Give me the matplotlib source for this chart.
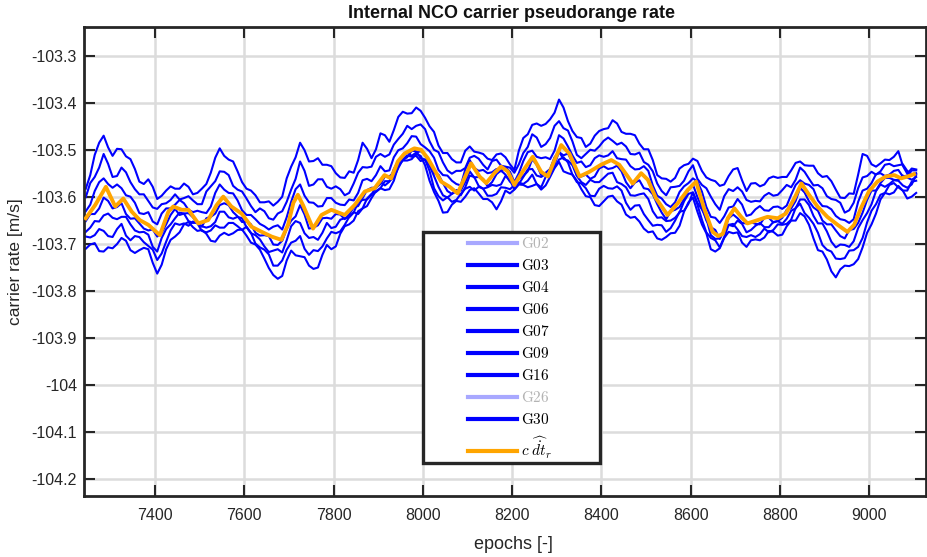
import matplotlib
matplotlib.use("Agg")
import numpy as np
import matplotlib.pyplot as plt
from matplotlib.patches import Rectangle
from matplotlib.ticker import FuncFormatter

plt.rcParams['font.family'] = ['Liberation Sans', 'DejaVu Sans']
plt.rcParams['mathtext.fontset'] = 'cm'
plt.rcParams['axes.unicode_minus'] = False

# ---------------- data ----------------
epochs = list(range(7245, 9106, 20))       # samples read on the 20-epoch grid
mid_epochs = list(range(7255, 9096, 20))   # samples read half-way between them

G02 = []
G26 = []
G03 = [-103.582, -103.510, -103.469, -103.512, -103.498, -103.519, -103.567, -103.562, -103.604, -103.586,
       -103.582, -103.571, -103.594, -103.582, -103.548, -103.496, -103.520, -103.545, -103.582, -103.596,
       -103.611, -103.618, -103.599, -103.535, -103.484, -103.524, -103.517, -103.531, -103.549, -103.559,
       -103.548, -103.484, -103.517, -103.464, -103.482, -103.429, -103.422, -103.409, -103.431, -103.461,
       -103.506, -103.519, -103.526, -103.492, -103.505, -103.518, -103.509, -103.515, -103.542, -103.474,
       -103.446, -103.448, -103.434, -103.392, -103.438, -103.472, -103.493, -103.469, -103.455, -103.436,
       -103.461, -103.465, -103.486, -103.498, -103.553, -103.561, -103.559, -103.532, -103.518, -103.544,
       -103.563, -103.576, -103.555, -103.538, -103.587, -103.570, -103.573, -103.556, -103.557, -103.543,
       -103.524, -103.533, -103.549, -103.555, -103.584, -103.602, -103.593, -103.508, -103.530, -103.528,
       -103.521, -103.502, -103.550, -103.541]
G03_mid = [-103.553, -103.484, -103.494, -103.497, -103.513, -103.540, -103.572, -103.578, -103.597, -103.577,
           -103.582, -103.578, -103.591, -103.572, -103.516, -103.512, -103.524, -103.568, -103.586, -103.611,
           -103.609, -103.610, -103.560, -103.515, -103.500, -103.523, -103.531, -103.534, -103.558, -103.545,
           -103.521, -103.497, -103.498, -103.468, -103.457, -103.418, -103.421, -103.416, -103.449, -103.490,
           -103.506, -103.526, -103.501, -103.503, -103.508, -103.521, -103.507, -103.530, -103.501, -103.466,
           -103.443, -103.444, -103.420, -103.409, -103.459, -103.474, -103.486, -103.459, -103.453, -103.443,
           -103.465, -103.468, -103.498, -103.521, -103.560, -103.567, -103.539, -103.529, -103.523, -103.558,
           -103.566, -103.573, -103.541, -103.564, -103.571, -103.577, -103.560, -103.559, -103.557, -103.527,
           -103.532, -103.533, -103.557, -103.566, -103.601, -103.592, -103.552, -103.512, -103.535, -103.520,
           -103.514, -103.533, -103.539]
G04 = [-103.600, -103.557, -103.508, -103.557, -103.537, -103.568, -103.594, -103.608, -103.625, -103.613,
       -103.594, -103.602, -103.607, -103.615, -103.577, -103.545, -103.553, -103.584, -103.603, -103.632,
       -103.630, -103.648, -103.630, -103.584, -103.524, -103.576, -103.562, -103.578, -103.577, -103.596,
       -103.571, -103.536, -103.535, -103.508, -103.509, -103.476, -103.448, -103.448, -103.455, -103.499,
       -103.526, -103.550, -103.544, -103.516, -103.518, -103.541, -103.520, -103.535, -103.548, -103.506,
       -103.466, -103.493, -103.474, -103.438, -103.458, -103.510, -103.508, -103.501, -103.480, -103.480,
       -103.484, -103.508, -103.505, -103.531, -103.571, -103.596, -103.578, -103.565, -103.532, -103.574,
       -103.599, -103.627, -103.583, -103.579, -103.606, -103.608, -103.597, -103.597, -103.585, -103.579,
       -103.537, -103.561, -103.574, -103.598, -103.606, -103.633, -103.612, -103.558, -103.546, -103.545,
       -103.529, -103.532, -103.544, -103.549]
G04_mid = [-103.570, -103.537, -103.529, -103.555, -103.547, -103.583, -103.594, -103.622, -103.615, -103.606,
           -103.605, -103.598, -103.615, -103.588, -103.566, -103.546, -103.576, -103.588, -103.619, -103.624,
           -103.645, -103.635, -103.610, -103.561, -103.544, -103.573, -103.562, -103.582, -103.583, -103.591,
           -103.548, -103.537, -103.514, -103.514, -103.488, -103.465, -103.455, -103.445, -103.481, -103.504,
           -103.543, -103.544, -103.538, -103.512, -103.531, -103.523, -103.533, -103.537, -103.530, -103.493,
           -103.473, -103.487, -103.448, -103.453, -103.481, -103.517, -103.499, -103.492, -103.473, -103.488,
           -103.492, -103.509, -103.525, -103.545, -103.587, -103.579, -103.576, -103.545, -103.561, -103.581,
           -103.615, -103.598, -103.587, -103.588, -103.610, -103.609, -103.591, -103.595, -103.574, -103.563,
           -103.546, -103.575, -103.581, -103.604, -103.612, -103.628, -103.581, -103.555, -103.552, -103.531,
           -103.534, -103.530, -103.551]
G06 = [-103.630, -103.587, -103.560, -103.580, -103.581, -103.599, -103.634, -103.632, -103.658, -103.624,
       -103.616, -103.613, -103.632, -103.632, -103.620, -103.573, -103.591, -103.607, -103.638, -103.647,
       -103.662, -103.663, -103.669, -103.610, -103.573, -103.611, -103.620, -103.602, -103.612, -103.617,
       -103.607, -103.564, -103.566, -103.534, -103.543, -103.500, -103.485, -103.471, -103.494, -103.516,
       -103.553, -103.565, -103.575, -103.521, -103.544, -103.549, -103.540, -103.536, -103.568, -103.523,
       -103.501, -103.517, -103.519, -103.468, -103.492, -103.527, -103.536, -103.517, -103.514, -103.502,
       -103.519, -103.534, -103.540, -103.544, -103.597, -103.615, -103.611, -103.577, -103.560, -103.588,
       -103.642, -103.655, -103.622, -103.604, -103.640, -103.626, -103.628, -103.621, -103.625, -103.595,
       -103.564, -103.574, -103.607, -103.620, -103.640, -103.649, -103.647, -103.586, -103.570, -103.549,
       -103.552, -103.542, -103.554, -103.543]
G06_mid = [-103.616, -103.568, -103.572, -103.573, -103.596, -103.612, -103.636, -103.652, -103.635, -103.624,
           -103.606, -103.627, -103.629, -103.634, -103.591, -103.584, -103.592, -103.628, -103.638, -103.657,
           -103.669, -103.660, -103.643, -103.583, -103.597, -103.612, -103.619, -103.602, -103.616, -103.605,
           -103.591, -103.561, -103.553, -103.545, -103.515, -103.496, -103.470, -103.487, -103.502, -103.542,
           -103.554, -103.572, -103.541, -103.538, -103.542, -103.547, -103.545, -103.546, -103.549, -103.504,
           -103.514, -103.515, -103.501, -103.475, -103.511, -103.524, -103.532, -103.511, -103.511, -103.517,
           -103.520, -103.541, -103.534, -103.575, -103.603, -103.621, -103.589, -103.570, -103.567, -103.621,
           -103.644, -103.641, -103.620, -103.616, -103.637, -103.619, -103.629, -103.620, -103.618, -103.574,
           -103.571, -103.583, -103.619, -103.626, -103.647, -103.655, -103.610, -103.582, -103.551, -103.555,
           -103.544, -103.556, -103.543]
G07 = [-103.651, -103.636, -103.601, -103.624, -103.613, -103.646, -103.656, -103.671, -103.684, -103.658,
       -103.625, -103.635, -103.643, -103.663, -103.642, -103.617, -103.617, -103.641, -103.652, -103.676,
       -103.681, -103.701, -103.693, -103.650, -103.617, -103.667, -103.660, -103.644, -103.636, -103.647,
       -103.622, -103.602, -103.580, -103.572, -103.556, -103.528, -103.504, -103.505, -103.509, -103.549,
       -103.570, -103.593, -103.586, -103.545, -103.557, -103.577, -103.551, -103.552, -103.573, -103.555,
       -103.519, -103.553, -103.540, -103.504, -103.507, -103.554, -103.552, -103.556, -103.534, -103.538,
       -103.545, -103.581, -103.564, -103.583, -103.615, -103.647, -103.627, -103.604, -103.573, -103.622,
       -103.664, -103.689, -103.645, -103.645, -103.656, -103.657, -103.644, -103.654, -103.644, -103.624,
       -103.580, -103.609, -103.629, -103.658, -103.671, -103.688, -103.668, -103.633, -103.586, -103.570,
       -103.559, -103.564, -103.558, -103.557]
G07_mid = [-103.636, -103.624, -103.608, -103.621, -103.636, -103.645, -103.667, -103.669, -103.676, -103.638,
           -103.638, -103.634, -103.655, -103.645, -103.635, -103.613, -103.632, -103.653, -103.658, -103.682,
           -103.683, -103.702, -103.668, -103.641, -103.637, -103.665, -103.645, -103.646, -103.637, -103.637,
           -103.619, -103.585, -103.580, -103.556, -103.547, -103.513, -103.512, -103.502, -103.531, -103.552,
           -103.587, -103.585, -103.568, -103.558, -103.561, -103.568, -103.543, -103.567, -103.561, -103.545,
           -103.531, -103.548, -103.515, -103.511, -103.526, -103.556, -103.561, -103.539, -103.540, -103.533,
           -103.568, -103.569, -103.581, -103.594, -103.633, -103.630, -103.621, -103.584, -103.600, -103.650,
           -103.670, -103.671, -103.637, -103.655, -103.653, -103.658, -103.644, -103.651, -103.627, -103.608,
           -103.590, -103.622, -103.650, -103.658, -103.683, -103.670, -103.655, -103.606, -103.586, -103.559,
           -103.563, -103.554, -103.563]
G09 = [-103.674, -103.651, -103.639, -103.644, -103.642, -103.658, -103.675, -103.680, -103.716, -103.668,
       -103.645, -103.635, -103.655, -103.662, -103.662, -103.631, -103.643, -103.642, -103.664, -103.681,
       -103.705, -103.714, -103.718, -103.662, -103.655, -103.687, -103.691, -103.655, -103.663, -103.645,
       -103.633, -103.606, -103.595, -103.568, -103.567, -103.523, -103.515, -103.502, -103.520, -103.555,
       -103.596, -103.593, -103.596, -103.554, -103.576, -103.579, -103.576, -103.555, -103.583, -103.557,
       -103.540, -103.557, -103.553, -103.503, -103.522, -103.555, -103.574, -103.568, -103.559, -103.548,
       -103.572, -103.596, -103.594, -103.604, -103.644, -103.651, -103.644, -103.609, -103.590, -103.626,
       -103.681, -103.688, -103.659, -103.650, -103.675, -103.661, -103.664, -103.653, -103.657, -103.629,
       -103.605, -103.617, -103.656, -103.673, -103.707, -103.702, -103.694, -103.649, -103.615, -103.573,
       -103.572, -103.565, -103.580, -103.553]
G09_mid = [-103.665, -103.652, -103.635, -103.647, -103.642, -103.671, -103.674, -103.706, -103.687, -103.658,
           -103.633, -103.651, -103.654, -103.665, -103.653, -103.631, -103.646, -103.645, -103.677, -103.690,
           -103.717, -103.711, -103.692, -103.651, -103.677, -103.685, -103.676, -103.666, -103.648, -103.643,
           -103.611, -103.605, -103.578, -103.575, -103.540, -103.521, -103.501, -103.517, -103.533, -103.578,
           -103.601, -103.588, -103.579, -103.557, -103.582, -103.574, -103.573, -103.564, -103.572, -103.541,
           -103.554, -103.551, -103.531, -103.519, -103.532, -103.568, -103.563, -103.568, -103.550, -103.568,
           -103.579, -103.597, -103.592, -103.630, -103.643, -103.650, -103.633, -103.593, -103.612, -103.645,
           -103.689, -103.670, -103.662, -103.657, -103.670, -103.655, -103.664, -103.651, -103.646, -103.624,
           -103.605, -103.640, -103.656, -103.695, -103.701, -103.706, -103.666, -103.634, -103.587, -103.578,
           -103.564, -103.575, -103.573]
G16 = [-103.684, -103.681, -103.672, -103.685, -103.657, -103.692, -103.685, -103.704, -103.734, -103.695,
       -103.656, -103.656, -103.652, -103.672, -103.671, -103.665, -103.655, -103.662, -103.663, -103.699,
       -103.712, -103.746, -103.735, -103.697, -103.683, -103.723, -103.715, -103.688, -103.677, -103.659,
       -103.632, -103.624, -103.593, -103.581, -103.566, -103.538, -103.511, -103.512, -103.520, -103.581,
       -103.607, -103.610, -103.593, -103.578, -103.578, -103.597, -103.593, -103.580, -103.575, -103.572,
       -103.552, -103.579, -103.547, -103.520, -103.526, -103.568, -103.581, -103.598, -103.576, -103.582,
       -103.586, -103.627, -103.617, -103.649, -103.659, -103.674, -103.650, -103.629, -103.590, -103.648,
       -103.687, -103.707, -103.659, -103.669, -103.685, -103.685, -103.667, -103.670, -103.659, -103.648,
       -103.614, -103.644, -103.676, -103.712, -103.731, -103.730, -103.713, -103.687, -103.629, -103.595,
       -103.574, -103.579, -103.586, -103.565]
G16_mid = [-103.686, -103.668, -103.683, -103.668, -103.682, -103.683, -103.696, -103.712, -103.720, -103.671,
           -103.659, -103.661, -103.656, -103.675, -103.660, -103.665, -103.655, -103.670, -103.676, -103.707,
           -103.722, -103.746, -103.712, -103.693, -103.710, -103.713, -103.705, -103.674, -103.673, -103.642,
           -103.636, -103.603, -103.589, -103.566, -103.558, -103.520, -103.514, -103.523, -103.544, -103.598,
           -103.600, -103.606, -103.582, -103.586, -103.582, -103.597, -103.579, -103.583, -103.569, -103.565,
           -103.572, -103.557, -103.537, -103.515, -103.552, -103.571, -103.597, -103.582, -103.581, -103.577,
           -103.612, -103.618, -103.636, -103.661, -103.660, -103.666, -103.631, -103.614, -103.616, -103.675,
           -103.692, -103.685, -103.657, -103.683, -103.681, -103.679, -103.675, -103.658, -103.657, -103.623,
           -103.634, -103.657, -103.702, -103.716, -103.732, -103.714, -103.706, -103.654, -103.615, -103.591,
           -103.570, -103.586, -103.567]
G30 = [-103.710, -103.698, -103.716, -103.709, -103.687, -103.713, -103.713, -103.711, -103.763, -103.711,
       -103.684, -103.658, -103.664, -103.670, -103.693, -103.682, -103.681, -103.670, -103.682, -103.701,
       -103.731, -103.766, -103.768, -103.714, -103.726, -103.746, -103.750, -103.702, -103.705, -103.662,
       -103.650, -103.624, -103.602, -103.581, -103.583, -103.534, -103.522, -103.508, -103.532, -103.589,
       -103.633, -103.616, -103.610, -103.585, -103.592, -103.604, -103.626, -103.586, -103.584, -103.574,
       -103.576, -103.584, -103.557, -103.525, -103.549, -103.565, -103.598, -103.617, -103.609, -103.597,
       -103.616, -103.644, -103.652, -103.675, -103.688, -103.685, -103.676, -103.631, -103.601, -103.658,
       -103.711, -103.709, -103.674, -103.675, -103.706, -103.690, -103.686, -103.674, -103.680, -103.650,
       -103.634, -103.659, -103.713, -103.733, -103.771, -103.746, -103.743, -103.707, -103.658, -103.605,
       -103.594, -103.576, -103.603, -103.591]
G30_mid = [-103.701, -103.715, -103.707, -103.700, -103.693, -103.719, -103.708, -103.740, -103.744, -103.691,
           -103.675, -103.653, -103.672, -103.678, -103.695, -103.676, -103.677, -103.669, -103.697, -103.712,
           -103.751, -103.774, -103.735, -103.724, -103.728, -103.753, -103.723, -103.711, -103.678, -103.658,
           -103.630, -103.619, -103.587, -103.585, -103.565, -103.522, -103.519, -103.512, -103.565, -103.608,
           -103.632, -103.608, -103.599, -103.581, -103.604, -103.611, -103.609, -103.592, -103.573, -103.579,
           -103.572, -103.575, -103.538, -103.545, -103.552, -103.583, -103.600, -103.619, -103.599, -103.609,
           -103.637, -103.642, -103.667, -103.673, -103.691, -103.677, -103.661, -103.611, -103.631, -103.677,
           -103.716, -103.687, -103.677, -103.697, -103.692, -103.692, -103.672, -103.682, -103.662, -103.650,
           -103.641, -103.688, -103.716, -103.758, -103.754, -103.747, -103.732, -103.676, -103.635, -103.591,
           -103.590, -103.586, -103.599]

clock_epochs = [7245, 7266, 7290, 7311, 7329, 7348, 7366, 7385, 7411, 7430, 7441, 7460, 7475, 7497, 7519,
                7538, 7553, 7571, 7594, 7616, 7639, 7661, 7683, 7698, 7710, 7720, 7732, 7754, 7773, 7795,
                7825, 7847, 7870, 7892, 7914, 7929, 7944, 7959, 7981, 7996, 8011, 8026, 8041, 8060, 8078,
                8093, 8108, 8127, 8142, 8160, 8175, 8190, 8205, 8228, 8246, 8265, 8280, 8295, 8310, 8328,
                8351, 8373, 8399, 8422, 8440, 8459, 8470, 8489, 8504, 8522, 8548, 8571, 8593, 8612, 8630,
                8649, 8662, 8672, 8683, 8698, 8713, 8727, 8750, 8772, 8795, 8813, 8832, 8848, 8865, 8884,
                8906, 8929, 8951, 8966, 8981, 8999, 9018, 9037, 9056, 9071, 9086, 9100]
clock_rate = [-103.645, -103.617, -103.578, -103.620, -103.603, -103.631, -103.649, -103.659, -103.681, -103.631,
              -103.620, -103.627, -103.627, -103.656, -103.649, -103.617, -103.599, -103.620, -103.635, -103.663,
              -103.674, -103.684, -103.691, -103.659, -103.612, -103.595, -103.618, -103.667, -103.638, -103.627,
              -103.638, -103.617, -103.588, -103.581, -103.553, -103.560, -103.524, -103.507, -103.496, -103.499,
              -103.517, -103.542, -103.567, -103.578, -103.592, -103.560, -103.528, -103.556, -103.570, -103.549,
              -103.535, -103.545, -103.574, -103.539, -103.514, -103.546, -103.556, -103.521, -103.489, -103.507,
              -103.556, -103.546, -103.531, -103.521, -103.531, -103.556, -103.571, -103.549, -103.563, -103.602,
              -103.638, -103.613, -103.585, -103.567, -103.624, -103.674, -103.683, -103.678, -103.645, -103.624,
              -103.642, -103.656, -103.649, -103.642, -103.645, -103.635, -103.603, -103.571, -103.595, -103.620,
              -103.642, -103.659, -103.674, -103.659, -103.624, -103.588, -103.567, -103.556, -103.553, -103.560,
              -103.556, -103.551]

sat_names = ['G02', 'G03', 'G04', 'G06', 'G07', 'G09', 'G16', 'G26', 'G30']
sat_main = [G02, G03, G04, G06, G07, G09, G16, G26, G30]
sat_mid = [[], G03_mid, G04_mid, G06_mid, G07_mid, G09_mid, G16_mid, [], G30_mid]
clock_label = r'$c\;\widehat{\dot{dt}}_r$'

x_ticks = [7400, 7600, 7800, 8000, 8200, 8400, 8600, 8800, 9000]
y_ticks = [-104.2, -104.1, -104.0, -103.9, -103.8, -103.7, -103.6, -103.5, -103.4, -103.3]

# ---------------- figure ----------------
W, H = 927, 557
fig = plt.figure(figsize=(W / 100, H / 100), dpi=100)
ax = fig.add_axes([84 / W, 61 / H, 842 / W, 468.7 / H])

dark = '#262626'
handles = []
for name, main, mid in zip(sat_names, sat_main, sat_mid):
    if len(main) > 0:
        xs = np.array(epochs + mid_epochs)
        ys = np.array(main + mid)
        order = np.argsort(xs)
        h, = ax.plot(xs[order], ys[order], color='#0000ff', lw=1.5, zorder=2)
    else:
        h, = ax.plot([], [], color='#a8a8ff', lw=1.5)
    handles.append(h)
hc, = ax.plot(clock_epochs, clock_rate, color='#ffa500', lw=2.8, zorder=3)
handles.append(hc)

ax.set_xlim(7241, 9127)
ax.set_ylim(-104.237, -103.238)
ax.set_xticks(x_ticks)
ax.set_yticks(y_ticks)
ax.yaxis.set_major_formatter(FuncFormatter(lambda v, _: '%g' % round(v, 1)))
ax.tick_params(direction='in', length=8, width=1.5, top=True, right=True,
               colors=dark, labelsize=11.5)
ax.tick_params(axis='x', pad=9)
ax.tick_params(axis='y', pad=5)
for sp in ax.spines.values():
    sp.set_color(dark)
    sp.set_linewidth(2.0)
ax.grid(True, color='#dcdcdc', lw=1.8)
ax.set_axisbelow(True)

ax.set_xlabel('epochs [-]', fontsize=13, color=dark, labelpad=3)
ax.xaxis.set_label_coords((513 - 84) / 842, -0.085)
ax.set_ylabel('carrier rate [m/s]', fontsize=12.5, color=dark, labelpad=6)
fig.text(511 / W, 1 - 13 / H, 'Internal NCO carrier pseudorange rate',
         ha='center', va='center', fontsize=13, fontweight='bold', color='#111111')

# legend box
bx0, bx1 = (423 - 84) / 842, (600 - 84) / 842
by0, by1 = (496 - 463) / 468.7, (496 - 232) / 468.7
ax.add_patch(Rectangle((bx0, by0), bx1 - bx0, by1 - by0, transform=ax.transAxes,
                       facecolor='white', edgecolor=dark, lw=2.4, zorder=4))
labels = [r'$\mathrm{%s}$' % n for n in sat_names] + [clock_label]
leg = ax.legend(handles, labels, loc='center',
                bbox_to_anchor=((bx0 + bx1) / 2 - 0.002, (by0 + by1) / 2 - 0.002),
                frameon=False, fontsize=11, handlelength=3.25, handletextpad=0.25,
                labelspacing=0.46, borderpad=0)
leg.set_zorder(5)
for t, h, n in zip(leg.get_texts(), leg.legend_handles, sat_names + ['clk']):
    h.set_linewidth(3.0)
    if n in ('G02', 'G26'):
        t.set_color('#b4b4b4')
    else:
        t.set_color('black')

fig.savefig('out.png', dpi=100)
